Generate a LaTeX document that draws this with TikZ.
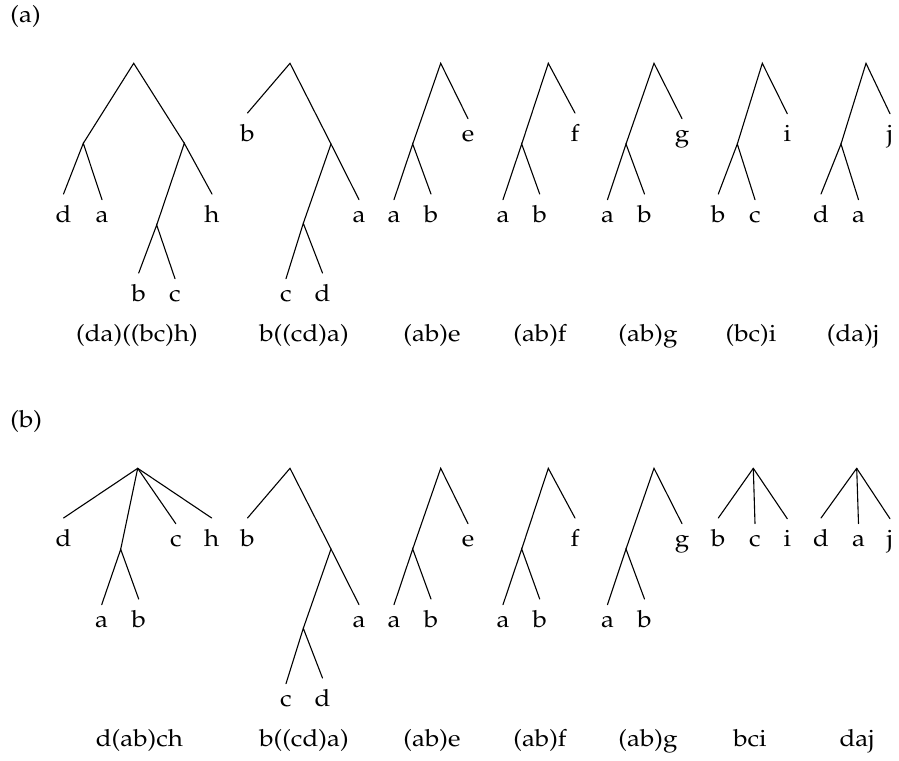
\documentclass[tikz,border=0pt]{standalone}
\usepackage[T1]{fontenc}
\usepackage{mathpazo}
\usepackage{graphicx}
\newcommand{\sx}[1]{\scalebox{1.1}[1]{#1}}
\tikzset{
  lf/.style={anchor=base, inner xsep=0pt, inner ysep=5.6pt},
  captxt/.style={anchor=base, inner sep=0pt},
  br/.style={line width=0.55pt, line cap=round}
}
\begin{document}
\begin{tikzpicture}[x=0.5pt, y=-0.5pt, font=\fontsize{11.8}{13}\selectfont]
\useasboundingbox (0,0) rectangle (899,760);
% ---------------- (a) ----------------
\node[anchor=base west, inner sep=0pt] (laba) at (10,22) {\sx{(a)}};
% A1 (da)((bc)h)
\coordinate (a1r) at (133.7,63.3);
\coordinate (a1l) at (83.3,143.3);
\coordinate (a1m) at (184.3,143.3);
\coordinate (a1i) at (156.7,225);
\node[lf] (a1d) at (63.5,222.7) {\sx{d}};
\node[lf] (a1a) at (102,222.7) {\sx{a}};
\node[lf] (a1h) at (212,222.7) {\sx{h}};
\node[lf] (a1b) at (138.7,301.7) {\sx{b}};
\node[lf] (a1c) at (175,301.7) {\sx{c}};
\draw[br] (a1l) -- (a1r) -- (a1m);
\draw[br] (a1d.north) -- (a1l) -- (a1a.north);
\draw[br] (a1i) -- (a1m) -- (a1h.north);
\draw[br] (a1b.north) -- (a1i) -- (a1c.north);
\node[captxt] (a1cap) at (137,341.7) {\sx{(da)((bc)h)}};
% A2 b((cd)a)
\coordinate (a2r) at (290,63.3);
\coordinate (a2x) at (331,144);
\coordinate (a2y) at (303.3,223.3);
\node[lf] (a2b) at (247.5,141.7) {\sx{b}};
\node[lf] (a2a) at (359,222.7) {\sx{a}};
\node[lf] (a2c) at (286,301.7) {\sx{c}};
\node[lf] (a2d) at (322.5,301.7) {\sx{d}};
\draw[br] (a2b.north) -- (a2r) -- (a2x);
\draw[br] (a2y) -- (a2x) -- (a2a.north);
\draw[br] (a2c.north) -- (a2y) -- (a2d.north);
\node[captxt] (a2cap) at (304,341.7) {\sx{b((cd)a)}};
% A3 (ab)e
\coordinate (a3r) at (440.7,63.3);
\coordinate (a3i) at (412.7,144);
\node[lf] (a3a) at (394,222.7) {\sx{a}};
\node[lf] (a3b) at (431,222.7) {\sx{b}};
\node[lf] (a3e) at (468,141.7) {\sx{e}};
\draw[br] (a3i) -- (a3r) -- (a3e.north);
\draw[br] (a3a.north) -- (a3i) -- (a3b.north);
\node[captxt] (a3cap) at (432,341.7) {\sx{(ab)e}};
% A4 (ab)f
\coordinate (a4r) at (548.3,63.3);
\coordinate (a4i) at (521.7,144);
\node[lf] (a4a) at (503,222.7) {\sx{a}};
\node[lf] (a4b) at (539.7,222.7) {\sx{b}};
\node[lf] (a4f) at (575,141.7) {\sx{f}};
\draw[br] (a4i) -- (a4r) -- (a4f.north);
\draw[br] (a4a.north) -- (a4i) -- (a4b.north);
\node[captxt] (a4cap) at (540,341.7) {\sx{(ab)f}};
% A5 (ab)g
\coordinate (a5r) at (654,63.3);
\coordinate (a5i) at (626,144);
\node[lf] (a5a) at (607.5,222.7) {\sx{a}};
\node[lf] (a5b) at (644.5,222.7) {\sx{b}};
\node[lf] (a5g) at (682,141.7) {\sx{g}};
\draw[br] (a5i) -- (a5r) -- (a5g.north);
\draw[br] (a5a.north) -- (a5i) -- (a5b.north);
\node[captxt] (a5cap) at (648,341.7) {\sx{(ab)g}};
% A6 (bc)i
\coordinate (a6r) at (762.3,63.3);
\coordinate (a6i) at (737.3,144);
\node[lf] (a6b) at (718.3,222.7) {\sx{b}};
\node[lf] (a6c) at (755,222.7) {\sx{c}};
\node[lf] (a6i2) at (787.3,141.7) {\sx{i}};
\draw[br] (a6i) -- (a6r) -- (a6i2.north);
\draw[br] (a6b.north) -- (a6i) -- (a6c.north);
\node[captxt] (a6cap) at (751,341.7) {\sx{(bc)i}};
% A7 (da)j
\coordinate (a7r) at (866,63.3);
\coordinate (a7i) at (841,144);
\node[lf] (a7d) at (821,222.7) {\sx{d}};
\node[lf] (a7a) at (858.5,222.7) {\sx{a}};
\node[lf] (a7j) at (890,141.7) {\sx{j}};
\draw[br] (a7i) -- (a7r) -- (a7j.north);
\draw[br] (a7d.north) -- (a7i) -- (a7a.north);
\node[captxt] (a7cap) at (853,341.7) {\sx{(da)j}};
% ---------------- (b) ----------------
\node[anchor=base west, inner sep=0pt] (labb) at (10,427) {\sx{(b)}};
% B1 d(ab)ch
\coordinate (b1r) at (137.7,468.3);
\coordinate (b1i) at (120.7,549.3);
\node[lf] (b1d) at (63.5,546.7) {\sx{d}};
\node[lf] (b1c) at (175.8,546.7) {\sx{c}};
\node[lf] (b1h) at (211.7,546.7) {\sx{h}};
\node[lf] (b1a) at (101.7,627.7) {\sx{a}};
\node[lf] (b1b) at (138.7,627.7) {\sx{b}};
\draw[br] (b1r) -- (b1d.north);
\draw[br] (b1r) -- (b1i);
\draw[br] (b1r) -- (b1c.north);
\draw[br] (b1r) -- (b1h.north);
\draw[br] (b1a.north) -- (b1i) -- (b1b.north);
\node[captxt] (b1cap) at (139.4,746.7) {\sx{d(ab)ch}};
% B2 b((cd)a)
\coordinate (b2r) at (290,468.3);
\coordinate (b2x) at (331,549);
\coordinate (b2y) at (303.3,628.3);
\node[lf] (b2b) at (247.5,546.7) {\sx{b}};
\node[lf] (b2a) at (359,627.7) {\sx{a}};
\node[lf] (b2c) at (286,706.7) {\sx{c}};
\node[lf] (b2d) at (322.5,706.7) {\sx{d}};
\draw[br] (b2b.north) -- (b2r) -- (b2x);
\draw[br] (b2y) -- (b2x) -- (b2a.north);
\draw[br] (b2c.north) -- (b2y) -- (b2d.north);
\node[captxt] (b2cap) at (304,746.7) {\sx{b((cd)a)}};
% B3 (ab)e
\coordinate (b3r) at (440.7,468.3);
\coordinate (b3i) at (412.7,549);
\node[lf] (b3a) at (394,627.7) {\sx{a}};
\node[lf] (b3b) at (431,627.7) {\sx{b}};
\node[lf] (b3e) at (468,546.7) {\sx{e}};
\draw[br] (b3i) -- (b3r) -- (b3e.north);
\draw[br] (b3a.north) -- (b3i) -- (b3b.north);
\node[captxt] (b3cap) at (432,746.7) {\sx{(ab)e}};
% B4 (ab)f
\coordinate (b4r) at (548.3,468.3);
\coordinate (b4i) at (521.7,549);
\node[lf] (b4a) at (503,627.7) {\sx{a}};
\node[lf] (b4b) at (539.7,627.7) {\sx{b}};
\node[lf] (b4f) at (575,546.7) {\sx{f}};
\draw[br] (b4i) -- (b4r) -- (b4f.north);
\draw[br] (b4a.north) -- (b4i) -- (b4b.north);
\node[captxt] (b4cap) at (540,746.7) {\sx{(ab)f}};
% B5 (ab)g
\coordinate (b5r) at (654,468.3);
\coordinate (b5i) at (626,549);
\node[lf] (b5a) at (607.5,627.7) {\sx{a}};
\node[lf] (b5b) at (644.5,627.7) {\sx{b}};
\node[lf] (b5g) at (682,546.7) {\sx{g}};
\draw[br] (b5i) -- (b5r) -- (b5g.north);
\draw[br] (b5a.north) -- (b5i) -- (b5b.north);
\node[captxt] (b5cap) at (648,746.7) {\sx{(ab)g}};
% B6 bci
\coordinate (b6r) at (753.3,468.3);
\node[lf] (b6b) at (718.3,546.7) {\sx{b}};
\node[lf] (b6c) at (755,546.7) {\sx{c}};
\node[lf] (b6i) at (787.3,546.7) {\sx{i}};
\draw[br] (b6r) -- (b6b.north);
\draw[br] (b6r) -- (b6c.north);
\draw[br] (b6r) -- (b6i.north);
\node[captxt] (b6cap) at (750,746.7) {\sx{bci}};
% B7 daj
\coordinate (b7r) at (856.7,468.3);
\node[lf] (b7d) at (821,546.7) {\sx{d}};
\node[lf] (b7a) at (858.5,546.7) {\sx{a}};
\node[lf] (b7j) at (890,546.7) {\sx{j}};
\draw[br] (b7r) -- (b7d.north);
\draw[br] (b7r) -- (b7a.north);
\draw[br] (b7r) -- (b7j.north);
\node[captxt] (b7cap) at (857,746.7) {\sx{daj}};
\end{tikzpicture}
\end{document}
